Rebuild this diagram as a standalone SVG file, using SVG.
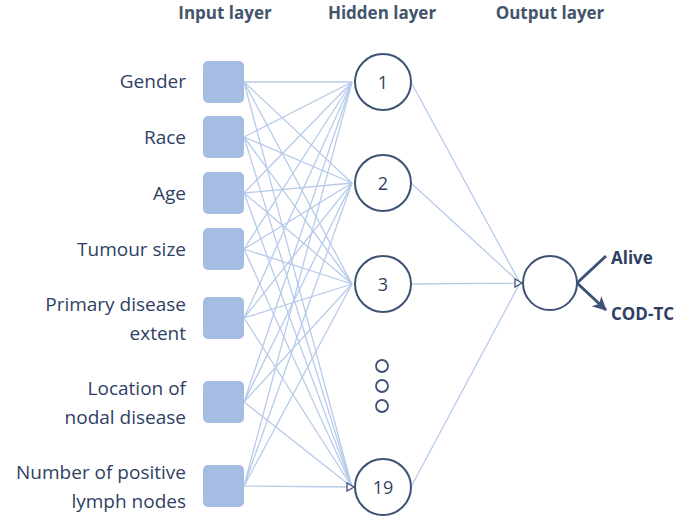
<svg xmlns="http://www.w3.org/2000/svg" width="685" height="518" viewBox="0 0 685 518">
<style>
text{font-family:"Open Sans","Liberation Sans",sans-serif;fill:#2f3f63}
.h{font-weight:bold;font-size:17px;text-anchor:middle;fill:#44546a}
.l{font-size:19px;text-anchor:end}
.o{font-weight:bold;font-size:17px}
.sq{fill:#a5bde3}
.c{fill:#fff;stroke:#3d5275;stroke-width:2}
.n{font-size:18px;text-anchor:middle}
.w{stroke:#b7cbea;stroke-width:1.3;fill:none}
</style>
<defs>
<marker id="t" markerWidth="10" markerHeight="10" refX="8" refY="5" orient="auto" markerUnits="userSpaceOnUse"><path d="M1,1 L8,5 L1,9 Z" fill="#fff" stroke="#3d5275" stroke-width="1.3"/></marker>
<marker id="a" markerWidth="16" markerHeight="16" refX="13" refY="7" orient="auto" markerUnits="userSpaceOnUse"><path d="M0,0 L14,7 L0,14 L4,7 Z" fill="#3d5275"/></marker>
</defs>
<text class="h" x="225" y="19">Input layer</text>
<text class="h" x="382" y="19">Hidden layer</text>
<text class="h" x="550" y="19">Output layer</text>
<g id="connectors">
<g class="w">
<path d="M244,82L352,82M244,82L352,183M244,82L352,284M244,82L352,487"/>
<path d="M244,137L352,82M244,137L352,183M244,137L352,284M244,137L352,487"/>
<path d="M244,193L352,82M244,193L352,183M244,193L352,284M244,193L352,487"/>
<path d="M244,249L352,82M244,249L352,183M244,249L352,284M244,249L352,487"/>
<path d="M244,318L352,82M244,318L352,183M244,318L352,284M244,318L352,487"/>
<path d="M244,402L352,82M244,402L352,183M244,402L352,284M244,402L352,487"/>
<path d="M244,486L352,82M244,486L352,183M244,486L352,284M244,486L352,487"/>
<path d="M411,82L520,283M411,183L520,283M411,284L520,283M411,487L520,283"/>
</g>
<path d="M350,82L354,82M350,183L354,183M350,284L354,284M350,487L354,487" stroke="none" marker-end="url(#t)" fill="none"/>
<path d="M518,283L522,283" stroke="none" marker-end="url(#t)"/>
<path d="M577,283L606,256M577,283L606,310" stroke="#3d5275" stroke-width="3" marker-end="url(#a)"/>
</g>
<g id="in-gender"><rect class="sq" x="203" y="61" width="41" height="42" rx="5"/><text class="l" x="186" y="88">Gender</text></g>
<g id="in-race"><rect class="sq" x="203" y="116" width="41" height="42" rx="5"/><text class="l" x="186" y="144">Race</text></g>
<g id="in-age"><rect class="sq" x="203" y="172" width="41" height="42" rx="5"/><text class="l" x="186" y="200">Age</text></g>
<g id="in-tumour"><rect class="sq" x="203" y="228" width="41" height="42" rx="5"/><text class="l" x="186" y="256">Tumour size</text></g>
<g id="in-primary"><rect class="sq" x="203" y="297" width="41" height="42" rx="5"/><text class="l" x="186" y="311">Primary disease</text><text class="l" x="186" y="340">extent</text></g>
<g id="in-location"><rect class="sq" x="203" y="381" width="41" height="42" rx="5"/><text class="l" x="186" y="395">Location of</text><text class="l" x="186" y="424">nodal disease</text></g>
<g id="in-number"><rect class="sq" x="203" y="465" width="41" height="42" rx="5"/><text class="l" x="186" y="479">Number of positive</text><text class="l" x="186" y="508">lymph nodes</text></g>
<g id="h1"><circle class="c" cx="383" cy="82" r="28"/><text class="n" x="383" y="89">1</text></g>
<g id="h2"><circle class="c" cx="383" cy="183" r="28"/><text class="n" x="383" y="190">2</text></g>
<g id="h3"><circle class="c" cx="383" cy="284" r="28"/><text class="n" x="383" y="291">3</text></g>
<g id="dots" fill="#fff" stroke="#3d5275" stroke-width="1.8"><circle cx="382" cy="366" r="6"/><circle cx="382" cy="386" r="6"/><circle cx="382" cy="406" r="6"/></g>
<g id="h19"><circle class="c" cx="383" cy="487" r="28"/><text class="n" x="383" y="494">19</text></g>
<g id="out"><circle class="c" cx="550" cy="283" r="27"/></g>
<g id="alive"><text class="o" x="611" y="264">Alive</text></g>
<g id="cod"><text class="o" x="611" y="320">COD-TC</text></g>
</svg>
